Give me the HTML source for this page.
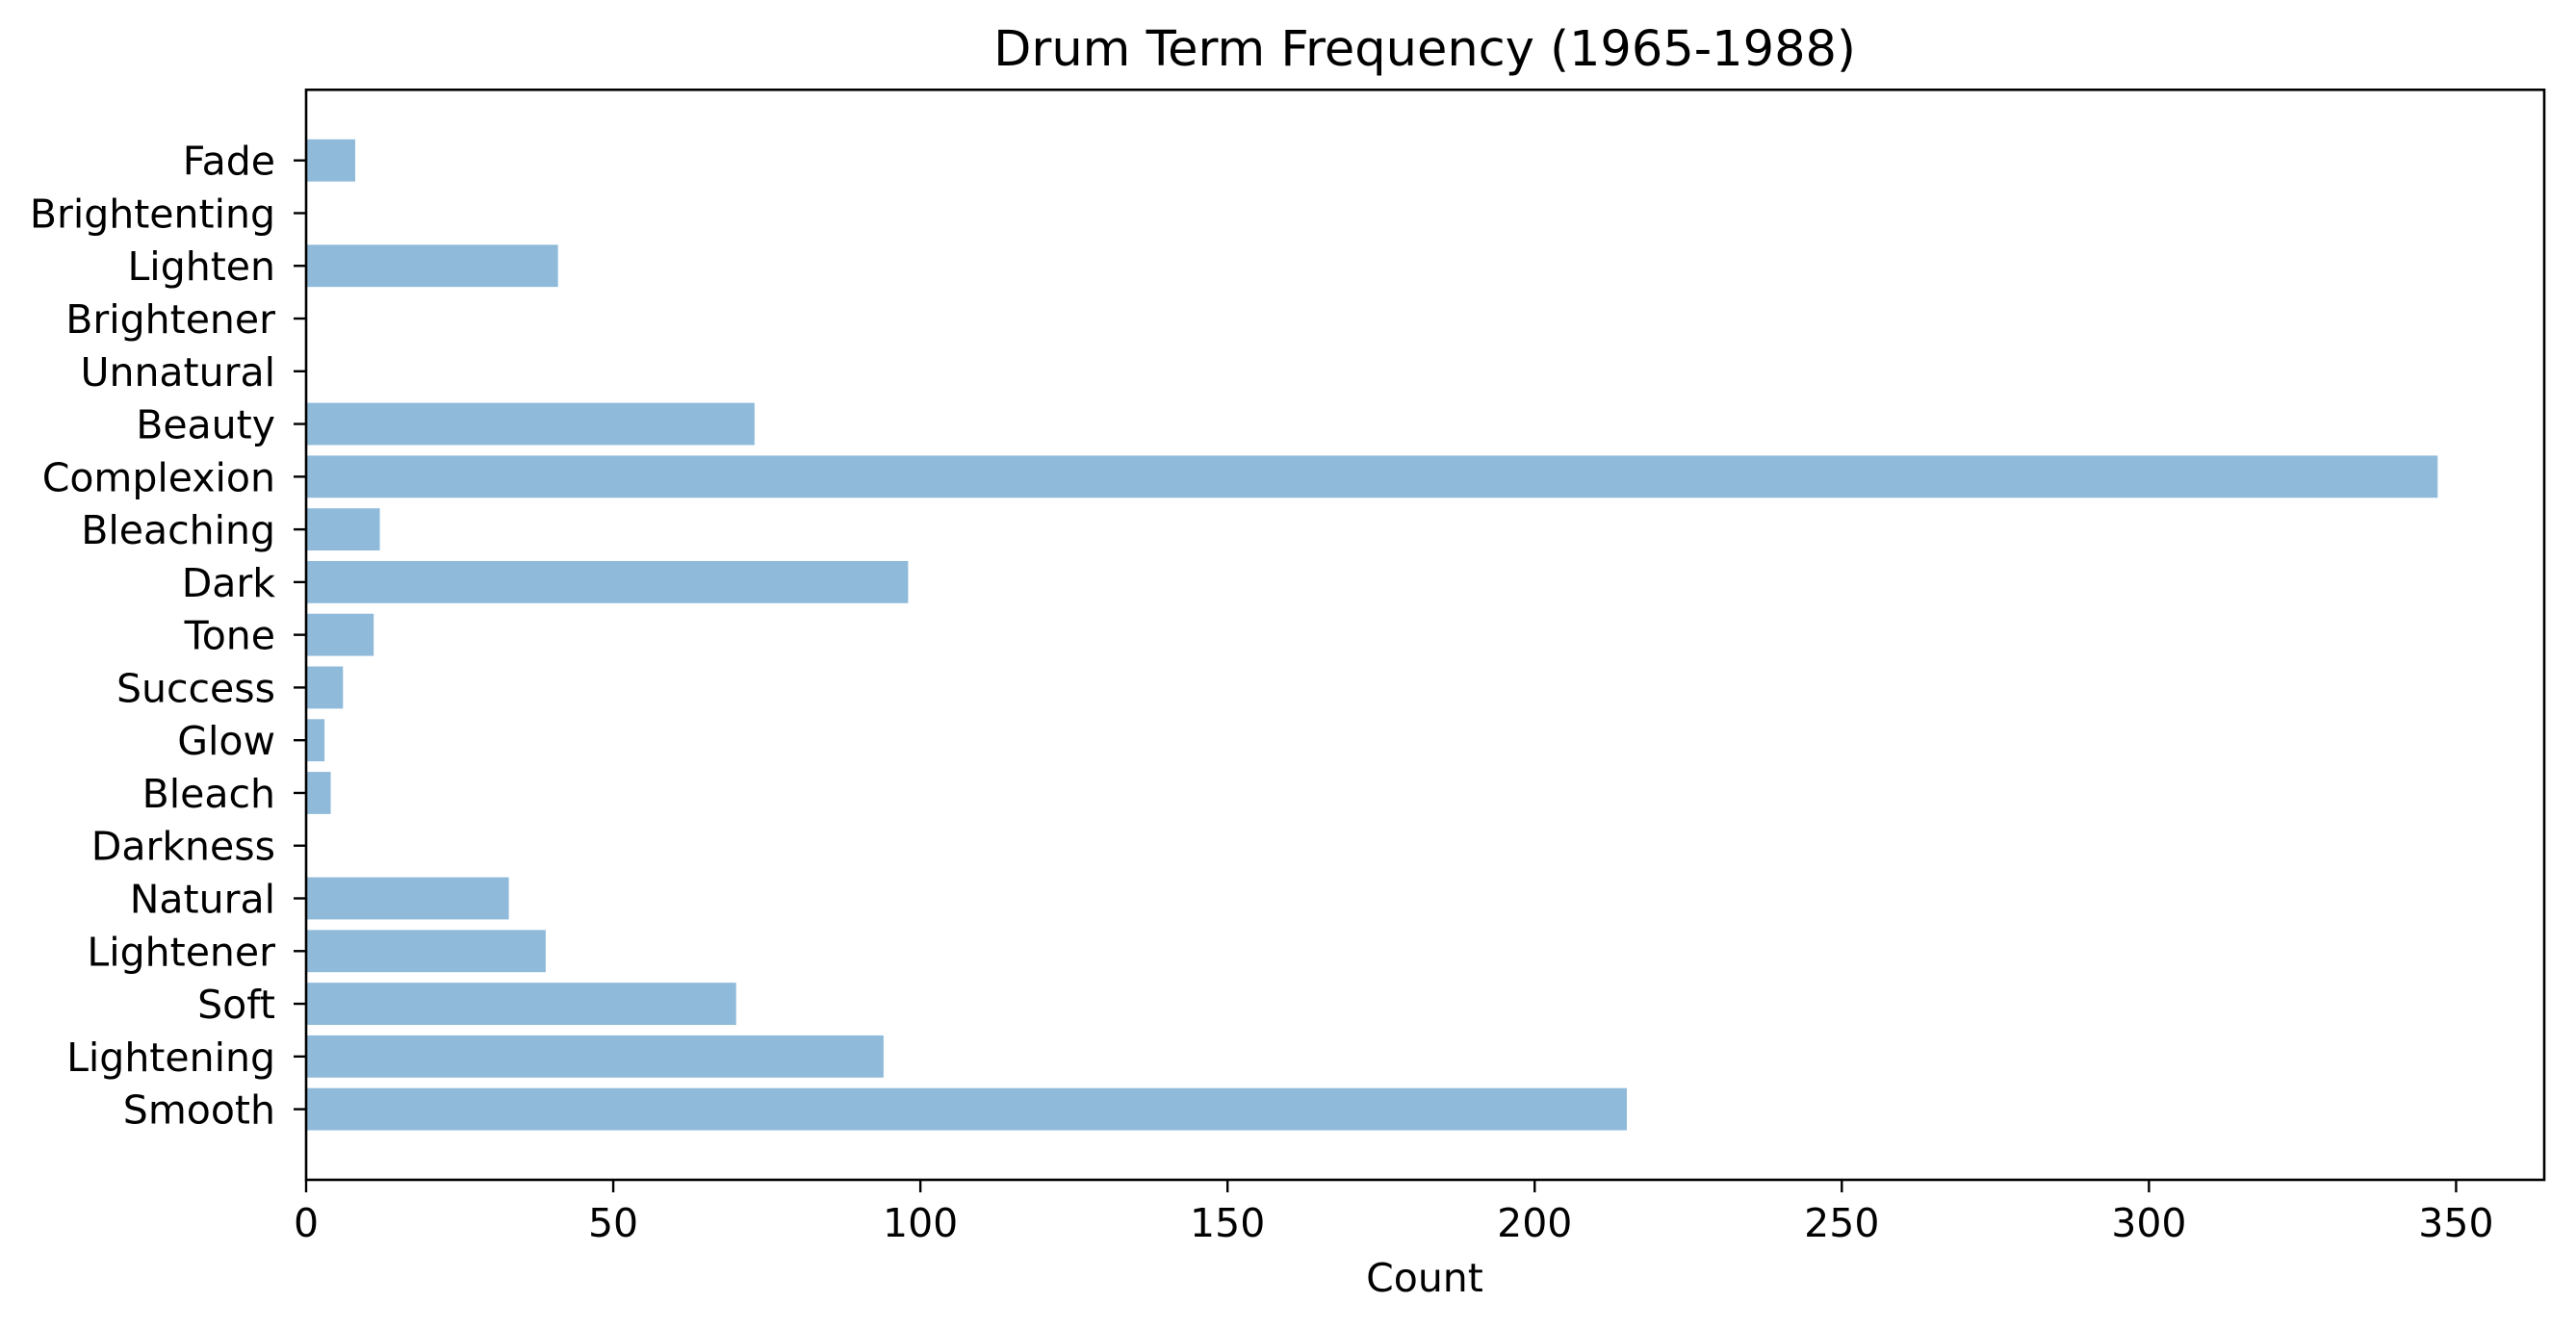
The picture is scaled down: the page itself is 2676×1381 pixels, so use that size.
<!DOCTYPE html>
<html><head><meta charset="utf-8"><style>
html,body{margin:0;padding:0;background:#fff;}
svg{display:block;font-family:"DejaVu Sans","Liberation Sans",sans-serif;}
</style></head><body>
<svg id="chart" width="2676" height="1381" viewBox="0 0 2676 1381">
<text x="1480" y="68" text-anchor="middle" font-size="51">Drum Term Frequency (1965-1988)</text>
<g id="bars"></g>
<g id="yaxis"></g>
<g id="xaxis"></g>
<rect x="318" y="93.3" width="2325" height="1132.7" fill="none" stroke="#000" stroke-width="2.6"/>
<text x="1480" y="1342" text-anchor="middle" font-size="41">Count</text>
</svg>
<script>
const categories = ["Smooth","Lightening","Soft","Lightener","Natural","Darkness","Bleach","Glow","Success","Tone","Dark","Bleaching","Complexion","Beauty","Unnatural","Brightener","Lighten","Brightenting","Fade"];
const counts = [215,94,70,39,33,0,4,3,6,11,98,12,347,73,0,0,41,0,8];
const xTicks = [0,50,100,150,200,250,300,350];

const L=318,R=2643,T=93.3,B=1226;
const xmax=364.35;
function xs(v){return L+v*(R-L)/xmax;}
const ymin=-1.34,ymax=19.34;
function ys(i){return T+(ymax-i)*(B-T)/(ymax-ymin);}
const band=(B-T)/(ymax-ymin);
const NS="http://www.w3.org/2000/svg";
const bars=document.getElementById('bars'),ya=document.getElementById('yaxis'),xa=document.getElementById('xaxis');
categories.forEach((c,i)=>{
  const r=document.createElementNS(NS,'rect');
  r.setAttribute('x',L);r.setAttribute('y',ys(i)-0.4*band);
  r.setAttribute('width',xs(counts[i])-L);r.setAttribute('height',0.8*band);
  r.setAttribute('fill','#8fbad9');
  
  
  bars.appendChild(r);
  const tk=document.createElementNS(NS,'line');
  tk.setAttribute('x1',L-13);tk.setAttribute('x2',L);tk.setAttribute('y1',ys(i));tk.setAttribute('y2',ys(i));
  tk.setAttribute('stroke','#000');tk.setAttribute('stroke-width','2.4');
  
  
  ya.appendChild(tk);
  const t=document.createElementNS(NS,'text');
  t.setAttribute('x',286);t.setAttribute('y',ys(i)+15);t.setAttribute('text-anchor','end');t.setAttribute('font-size','41');
  t.textContent=c;
  
  
  ya.appendChild(t);
});
xTicks.forEach(v=>{
  const tk=document.createElementNS(NS,'line');
  tk.setAttribute('x1',xs(v));tk.setAttribute('x2',xs(v));tk.setAttribute('y1',B);tk.setAttribute('y2',B+13);
  tk.setAttribute('stroke','#000');tk.setAttribute('stroke-width','2.4');
  
  
  xa.appendChild(tk);
  const t=document.createElementNS(NS,'text');
  t.setAttribute('x',xs(v));t.setAttribute('y',1285);t.setAttribute('text-anchor','middle');t.setAttribute('font-size','41');
  t.textContent=v;
  
  
  xa.appendChild(t);
});
</script>
</body></html>
